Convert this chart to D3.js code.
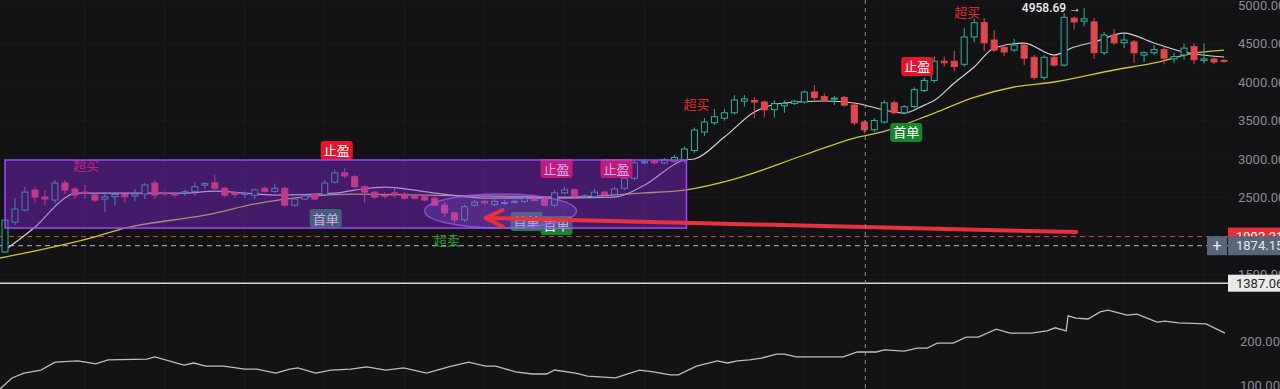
<!DOCTYPE html>
<html>
<head>
<meta charset="utf-8">
<script src="https://cdn.jsdelivr.net/npm/d3@7"></script>
<style>
    body { margin: 0; background: #131316; overflow: hidden; }
    text { font-family: Roboto, "Noto Sans", sans-serif; }
    .cn { font-family: "Noto Sans CJK SC", "Noto Sans", sans-serif; }
</style>
</head>
<body>
<div id="chart"></div>
<script>
// ---------- candles ----------
const opens = [1792,2180,2337,2597,2506,2467,2688,2610,2570,2532,2480,2510,2540,2520,2545,2688,2560,2545,2560,2580,
    2660,2690,2620,2560,2540,2530,2620,2580,2620,2400,2480,2540,2540,2700,2820,2770,2640,2570,2530,2560,
    2545,2520,2510,2490,2400,2300,2210,2400,2450,2410,2430,2440,2450,2480,2480,2400,2560,2600,2520,2510,
    2570,2540,2620,2750,2950,2970,2950,2970,2990,3110,3350,3470,3530,3600,3750,3760,3740,3640,3690,3720,
    3740,3870,3810,3780,3800,3700,3480,3380,3480,3730,3600,3680,3890,4020,4270,4270,4230,4585,4770,4545,
    4450,4415,4480,4320,4060,4320,4220,4830,4790,4780,4380,4610,4510,4520,4350,4380,4420,4300,4350,4460,
    4280,4300,4280];
const highs = [2210,2493,2636,2636,2597,2727,2727,2636,2662,2545,2570,2570,2570,2610,2690,2727,2580,2560,2600,2700,
    2700,2790,2640,2580,2580,2620,2640,2680,2640,2506,2540,2545,2727,2860,2880,2790,2660,2590,2570,2620,
    2570,2540,2530,2520,2440,2310,2410,2470,2470,2490,2470,2470,2510,2500,2500,2600,2640,2620,2540,2610,
    2590,2640,2770,2980,3000,3000,3010,3050,3160,3410,3530,3650,3650,3830,3830,3800,3760,3760,3760,3770,
    3890,3960,3850,3820,3820,3720,3500,3530,3760,3760,3700,3930,4060,4330,4330,4400,4700,4830,4830,4675,
    4480,4560,4500,4350,4350,4350,4896,4850,4958.69,4830,4650,4690,4640,4545,4400,4480,4460,4380,4500,4500,
    4500,4320,4300];
const lows = [1780,2142,2320,2428,2400,2428,2545,2480,2480,2440,2310,2400,2430,2450,2480,2480,2520,2500,2520,2520,
    2610,2597,2500,2500,2490,2480,2560,2560,2380,2380,2470,2470,2520,2680,2750,2620,2430,2480,2490,2500,
    2470,2470,2450,2390,2250,2170,2180,2380,2410,2390,2400,2420,2430,2450,2390,2380,2540,2500,2500,2490,
    2520,2520,2600,2720,2930,2930,2930,2950,2950,3080,3300,3440,3500,3580,3680,3530,3540,3540,3600,3700,
    3720,3760,3740,3700,3680,3440,3330,3350,3460,3580,3580,3660,3870,3990,4200,4140,4200,4520,4400,4390,
    4340,4390,4220,4030,4030,4200,4200,4680,4720,4300,4350,4480,4440,4250,4260,4350,4230,4250,4290,4230,
    4240,4230,4250];
const closes = [2207,2350,2570,2506,2480,2688,2597,2532,2560,2467,2510,2540,2510,2545,2662,2532,2555,2538,2575,2640,
    2680,2620,2530,2540,2555,2600,2580,2620,2400,2480,2520,2480,2688,2820,2780,2640,2570,2506,2520,2530,
    2490,2490,2467,2400,2300,2210,2380,2440,2430,2450,2435,2450,2490,2460,2400,2560,2600,2520,2522,2570,
    2540,2610,2750,2950,2965,2950,2990,3020,3130,3376,3480,3550,3600,3766,3780,3740,3640,3720,3720,3750,
    3870,3800,3770,3790,3700,3470,3380,3500,3730,3600,3680,3900,4020,4270,4250,4200,4585,4770,4510,4415,
    4390,4480,4310,4060,4320,4220,4840,4780,4820,4380,4610,4510,4545,4380,4380,4420,4310,4330,4440,4290,
    4300,4260,4270];

// ---------- moving averages (bar index, value) ----------
const maFastIdx = [0,3,6,7,18,21,27,33,35,38,43,48,54,61,64,68,69,72,75,78,82,85,88,90,92,93,95,97,99,102,105,107,109,112,115,118,122];
const maFastVal = [1818,2116,2493,2558,2558,2584,2532,2558,2597,2636,2558,2493,2493,2506,2660,2987,3000,3285,3610,3727,3753,3727,3636,3597,3700,3760,3987,4195,4441,4506,4350,4454,4519,4636,4506,4390,4325];
const maSlowIdx = [-0.5,9,12,20,26,35,42,56,64,68,73,80,85,88,93,97,101,105,111,115,119,122];
const maSlowVal = [1714,1990,2103,2270,2441,2545,2532,2506,2560,2597,2740,3052,3272,3360,3597,3800,3935,4000,4156,4247,4376,4415];

// ---------- lower indicator (bar index, value) ----------
const indIdx = [-0.5,0.7,1.9,3.6,5,7.3,9.1,10.3,14.2,15,17.9,18.9,20.1,21.9,24,25.2,27.1,28.5,29.3,31.1,32.6,34.6,36.2,38.1,39.9,
    42.2,44.4,46.4,48.1,49.1,51.1,52.8,54.2,55,57.1,58.3,61.1,63.5,64.9,66.6,67.4,69.2,71.3,72.3,73.3,74.5,75.7,77.2,78,79.2,
    83.9,85.3,87.2,88,90,91.3,92.3,93.3,94.9,96.2,97.4,99.2,100.6,102.7,104.3,105.1,106.2,106.4,107.2,108.4,109.6,110.4,
    112.3,113.3,115.3,116.1,117.4,120.2,122.1];
const indVal = [91,116,127,134,152,155,148,157,159,164,145,150,143,143,136,136,127,136,139,127,134,136,141,134,139,
    127,141,152,143,143,130,125,125,134,127,120,116,134,130,123,123,143,155,150,155,157,161,170,170,164,
    164,175,175,180,177,184,184,195,195,209,209,227,218,218,223,230,223,257,252,250,266,270,
    259,261,243,245,241,239,218];

// ---------- axes, levels, annotations ----------
const priceTicks = [1500,2000,2500,3000,3500,4000,4500,5000];
const subTicks = [100,200];
const gridIdx = [8,16,24,32,40,48,56,64,72,80,88,96,104,112,120];
const crossIdx = 86.1;
const levelPrices = [1992.21, 1874.15, 1387.06];

const textSignalKind = ["超买","超买","超买","超卖"];
const textSignalIdx = [8.1, 69.2, 96.3, 44.2];
const textSignalPrice = [2922, 3714, 4909, 1947];

const badgeKind = ["止盈","止盈","止盈","止盈","首单","首单","首单","首单"];
const badgeIdx = [33.2, 55.2, 61.2, 91.3, 32.1, 52.2, 55.2, 90.2];
const badgePrice = [3104, 2870, 2870, 4195, 2220, 2181, 2130, 3338];

const zoneIdx = [0, 68.2];
const zonePrice = [2987, 2103];
const ellipseIdx = [42, 57.2];
const ellipsePrice = [2545, 2103];
const arrowIdx = [48.3, 107.2];
const arrowPrice = [2233, 2051];

function drawChart() {
    const W = 1280, H = 389, plotRight = 1228;
    const bg = "#131316";
    const up = "#2fb39a", down = "#e0474f";

    const x = d3.scaleLinear().domain([0, 122]).range([5, 1224]);
    const y = d3.scaleLinear().domain([1500, 5000]).range([274.5, 5]);
    const ySub = d3.scaleLinear().domain([100, 200]).range([385, 341]);

    const svg = d3.select("#chart").append("svg")
        .attr("width", W).attr("height", H)
        .style("background", bg);

    svg.append("defs").append("clipPath").attr("id", "plot")
        .append("rect").attr("x", 0).attr("y", 0).attr("width", plotRight).attr("height", H);

    // grid
    const grid = svg.append("g").attr("clip-path", "url(#plot)");
    grid.selectAll(".vg").data(gridIdx).join("line")
        .attr("x1", d => x(d)).attr("x2", d => x(d))
        .attr("y1", 0).attr("y2", H)
        .attr("stroke", "#1d1d21").attr("stroke-width", 1);
    grid.selectAll(".hg").data(priceTicks).join("line")
        .attr("x1", 0).attr("x2", plotRight)
        .attr("y1", d => y(d)).attr("y2", d => y(d))
        .attr("stroke", "#19191c").attr("stroke-width", 1);

    const main = svg.append("g").attr("clip-path", "url(#plot)");

    // price levels
    main.append("line").attr("x1", 0).attr("x2", plotRight)
        .attr("y1", y(levelPrices[0])).attr("y2", y(levelPrices[0]))
        .attr("stroke", "#c8504a").attr("stroke-width", 1).attr("stroke-dasharray", "5,4");
    main.append("line").attr("x1", 0).attr("x2", plotRight)
        .attr("y1", y(levelPrices[1])).attr("y2", y(levelPrices[1]))
        .attr("stroke", "#b8b8b8").attr("stroke-width", 1).attr("stroke-dasharray", "5,4");
    main.append("line").attr("x1", 0).attr("x2", plotRight)
        .attr("y1", y(levelPrices[2])).attr("y2", y(levelPrices[2]))
        .attr("stroke", "#d6d6d6").attr("stroke-width", 1.5);

    // crosshair
    svg.append("line").attr("x1", x(crossIdx)).attr("x2", x(crossIdx))
        .attr("y1", 0).attr("y2", H)
        .attr("stroke", "#8a8a8a").attr("stroke-width", 1).attr("stroke-dasharray", "4,4");

    // moving averages
    const line = d3.line().x(d => x(d[0])).y(d => y(d[1])).curve(d3.curveMonotoneX);
    main.append("path").attr("d", line(d3.zip(maSlowIdx, maSlowVal)))
        .attr("fill", "none").attr("stroke", "#c9c53c").attr("stroke-width", 1.3);
    main.append("path").attr("d", line(d3.zip(maFastIdx, maFastVal)))
        .attr("fill", "none").attr("stroke", "#d2d2da").attr("stroke-width", 1.2);

    // candles
    const bars = d3.range(opens.length);
    const cg = main.append("g");
    cg.selectAll(".wick").data(bars).join("line")
        .attr("x1", i => x(i)).attr("x2", i => x(i))
        .attr("y1", i => y(highs[i])).attr("y2", i => y(lows[i]))
        .attr("stroke", i => closes[i] >= opens[i] ? up : down).attr("stroke-width", 1);
    cg.selectAll(".body").data(bars).join("rect")
        .attr("x", i => x(i) - 3)
        .attr("y", i => y(Math.max(opens[i], closes[i])))
        .attr("width", 6)
        .attr("height", i => Math.max(1, Math.abs(y(opens[i]) - y(closes[i]))))
        .attr("fill", i => closes[i] >= opens[i] ? bg : down)
        .attr("stroke", i => closes[i] >= opens[i] ? up : down).attr("stroke-width", 1);

    // max label
    const hi = d3.maxIndex(highs);
    svg.append("text").attr("x", x(hi) - 3).attr("y", y(highs[hi]) + 4)
        .attr("text-anchor", "end").attr("fill", "#f0f0f0").attr("font-size", 12)
        .attr("font-weight", 500)
        .text(d3.format(".2f")(highs[hi]) + " →");

    // text signals
    main.selectAll(".sig").data(textSignalKind).join("text")
        .attr("class", "cn")
        .attr("x", (d, k) => x(textSignalIdx[k])).attr("y", (d, k) => y(textSignalPrice[k]) + 5)
        .attr("text-anchor", "middle").attr("font-size", 13)
        .attr("fill", d => d === "超买" ? "#e3262f" : "#2e9a34")
        .text(d => d);

    // badges
    const badges = main.selectAll(".badge").data(badgeKind).join("g")
        .attr("transform", (d, k) => `translate(${x(badgeIdx[k])},${y(badgePrice[k])})`);
    badges.append("rect").attr("x", -16).attr("y", -10).attr("width", 32).attr("height", 19).attr("rx", 3)
        .attr("fill", d => d === "止盈" ? "#e5162b" : "#17862c");
    badges.append("text").attr("class", "cn").attr("y", 4.5).attr("text-anchor", "middle")
        .attr("font-size", 13).attr("fill", "#ffffff").text(d => d);

    // purple zone over everything
    main.append("rect")
        .attr("x", x(zoneIdx[0])).attr("y", y(zonePrice[0]))
        .attr("width", x(zoneIdx[1]) - x(zoneIdx[0]))
        .attr("height", y(zonePrice[1]) - y(zonePrice[0]))
        .attr("fill", "#8c28e6").attr("fill-opacity", 0.4)
        .attr("stroke", "#a246ff").attr("stroke-width", 1.5);

    main.append("ellipse")
        .attr("cx", (x(ellipseIdx[0]) + x(ellipseIdx[1])) / 2)
        .attr("cy", (y(ellipsePrice[0]) + y(ellipsePrice[1])) / 2)
        .attr("rx", (x(ellipseIdx[1]) - x(ellipseIdx[0])) / 2)
        .attr("ry", (y(ellipsePrice[1]) - y(ellipsePrice[0])) / 2)
        .attr("fill", "#a070ff").attr("fill-opacity", 0.18)
        .attr("stroke", "#9a5cf0").attr("stroke-opacity", 0.75).attr("stroke-width", 1.5);

    // red arrow
    const ax0 = x(arrowIdx[0]), ay0 = y(arrowPrice[0]);
    main.append("line")
        .attr("x1", ax0).attr("y1", ay0)
        .attr("x2", x(arrowIdx[1])).attr("y2", y(arrowPrice[1]))
        .attr("stroke", "#e8303f").attr("stroke-width", 4).attr("stroke-linecap", "round");
    main.append("path")
        .attr("d", `M${ax0 + 15},${ay0 - 8} L${ax0 - 2},${ay0} L${ax0 + 15},${ay0 + 8.5}`)
        .attr("fill", "none").attr("stroke", "#e8303f").attr("stroke-width", 4)
        .attr("stroke-linecap", "round").attr("stroke-linejoin", "round");

    // lower pane indicator
    const subLine = d3.line().x(d => x(d[0])).y(d => ySub(d[1]));
    svg.append("path").attr("clip-path", "url(#plot)")
        .attr("d", subLine(d3.zip(indIdx, indVal)))
        .attr("fill", "none").attr("stroke", "#bdbdc2").attr("stroke-width", 1.3);

    // right axes
    const axisMain = d3.axisRight(y).tickValues(priceTicks).tickSize(0).tickPadding(10)
        .tickFormat(d3.format(".2f"));
    const ga = svg.append("g").attr("transform", `translate(${plotRight},0)`).call(axisMain);
    const axisSub = d3.axisRight(ySub).tickValues(subTicks).tickSize(0).tickPadding(12)
        .tickFormat(d3.format(".2f"));
    const gs = svg.append("g").attr("transform", `translate(${plotRight},0)`).call(axisSub);
    [ga, gs].forEach(g => {
        g.select(".domain").remove();
        g.selectAll("text").attr("fill", "#8b8b90").attr("font-size", 13)
            .style("font-family", "Roboto, sans-serif");
    });

    // level labels at right edge
    const tag = (price, fill, color, h) => {
        const g = svg.append("g").attr("transform", `translate(${plotRight},${y(price)})`);
        g.append("rect").attr("x", 0).attr("y", -h / 2).attr("width", W - plotRight).attr("height", h)
            .attr("fill", fill);
        g.append("text").attr("x", 8).attr("y", 4.5).attr("fill", color).attr("font-size", 13)
            .text(d3.format(".2f")(price));
        return g;
    };
    tag(levelPrices[0], "#e53238", "#ffffff", 18);
    tag(levelPrices[1], "#5a6579", "#e4e9f2", 19);
    tag(levelPrices[2], "#e9e9e9", "#2a2a2a", 17);

    const plus = svg.append("g").attr("transform", `translate(${plotRight - 21},${y(levelPrices[1])})`);
    plus.append("rect").attr("x", 0).attr("y", -9.5).attr("width", 20).attr("height", 19).attr("fill", "#5a6579");
    plus.append("text").attr("x", 10).attr("y", 5).attr("text-anchor", "middle")
        .attr("fill", "#e4e9f2").attr("font-size", 16).text("+");
}

drawChart();
</script>
</body>
</html>
